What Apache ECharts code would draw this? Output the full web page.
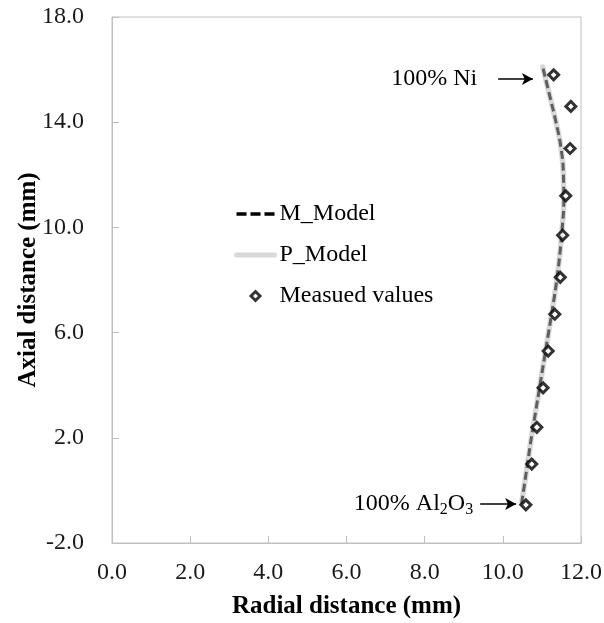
<!DOCTYPE html>
<html>
<head>
<meta charset="utf-8">
<script src="https://cdn.jsdelivr.net/npm/echarts@6/dist/echarts.min.js"></script>
<style>
  html, body { margin: 0; padding: 0; background: #fff; }
  #chart { width: 604px; height: 623px; }
</style>
</head>
<body>
<div id="chart"></div>
<script>
// Radial position of the interface vs. axial distance
const xTicks = [0, 2, 4, 6, 8, 10, 12];
const yTicks = [-2, 2, 6, 10, 14, 18];

// Model profile (axial distance, radial distance)
const modelAxial   = [-0.5, 0, 1, 2, 3, 4, 5, 6, 7, 8, 9, 10, 11, 12, 13, 14, 15, 16.1];
const mModelRadial = [10.48, 10.53, 10.63, 10.73, 10.84, 10.95, 11.06, 11.17, 11.28, 11.38, 11.46, 11.52, 11.56, 11.55, 11.49, 11.36, 11.2, 11.02];
const pModelRadial = [10.48, 10.53, 10.63, 10.73, 10.84, 10.95, 11.06, 11.17, 11.28, 11.38, 11.46, 11.52, 11.56, 11.55, 11.49, 11.36, 11.2, 11.02];

// Measured interface positions
const measAxial  = [-0.55, 1.0, 2.4, 3.9, 5.3, 6.7, 8.1, 9.7, 11.2, 13.0, 14.6, 15.8];
const measRadial = [10.59, 10.74, 10.87, 11.03, 11.16, 11.33, 11.47, 11.53, 11.61, 11.72, 11.74, 11.30];

// Annotation arrows: [label, y, xStart, xEnd, gap between text and arrow]
const notes = [
  ['{n|100% Ni}', 15.64, 9.88, 10.77, 21],
  ['{n|100% Al}{s|2}{n|O}{s|3}', -0.52, 9.42, 10.34, 7]
];

const FONT = '"Liberation Serif", "Times New Roman", serif';

// Small square diamond centred in the wide legend icon box
const LEGEND_DIAMOND = 'path://M0,0M38,10M14.5,5L19,0.5L23.5,5L19,9.5Z';

const pairs = (xs, ys) => xs.map((x, i) => [x, ys[i]]);

const chart = echarts.init(document.getElementById('chart'), null, { renderer: 'canvas' });

const tickLabel = {
  fontFamily: FONT, fontSize: 24, color: '#1a1a1a',
  formatter: v => v.toFixed(1)
};

chart.setOption({
  animation: false,
  backgroundColor: '#fff',
  textStyle: { fontFamily: FONT },
  grid: {
    left: 112, right: 23, top: 17, bottom: 80,
    outerBoundsMode: 'none',
    show: true, borderColor: '#bfbfbf', borderWidth: 1, backgroundColor: 'transparent'
  },
  xAxis: {
    type: 'value', min: xTicks[0], max: xTicks[xTicks.length - 1], interval: 2,
    name: 'Radial distance (mm)', nameLocation: 'middle', nameGap: 51, nameMoveOverlap: false,
    nameTextStyle: { fontFamily: FONT, fontSize: 25, fontWeight: 'bold', color: '#000' },
    axisLine: { onZero: false, lineStyle: { color: '#bfbfbf', width: 1 } },
    axisTick: { inside: true, length: 7, lineStyle: { color: '#bfbfbf' } },
    axisLabel: Object.assign({ margin: 18 }, tickLabel),
    splitLine: { show: false }
  },
  yAxis: {
    type: 'value', min: yTicks[0], max: yTicks[yTicks.length - 1], interval: 4,
    name: 'Axial distance (mm)', nameLocation: 'middle', nameGap: 71, nameRotate: 90, nameMoveOverlap: false,
    nameTextStyle: { fontFamily: FONT, fontSize: 25, fontWeight: 'bold', color: '#000' },
    axisLine: { onZero: false, lineStyle: { color: '#bfbfbf', width: 1 } },
    axisTick: { inside: true, length: 7, lineStyle: { color: '#bfbfbf' } },
    axisLabel: Object.assign({ margin: 28 }, tickLabel),
    splitLine: { show: false }
  },
  legend: {
    orient: 'vertical', left: 229, top: 197,
    itemWidth: 38, itemHeight: 10, itemGap: 17,
    textStyle: { fontFamily: FONT, fontSize: 24, color: '#000', lineHeight: 24 },
    data: [
      {
        name: 'M_Model',
        itemStyle: { color: 'transparent', borderColor: 'transparent', borderWidth: 0 },
        lineStyle: { color: '#000', width: 3.5, type: [10, 4] }
      },
      {
        name: 'P_Model',
        itemStyle: { color: 'transparent', borderColor: 'transparent', borderWidth: 0 },
        lineStyle: { color: '#d9d9d9', width: 5, cap: 'round' }
      },
      {
        name: 'Measued values', icon: LEGEND_DIAMOND,
        itemStyle: { color: '#fff', borderColor: '#000', borderWidth: 3 }
      }
    ]
  },
  series: [
    {
      name: 'P_Model', type: 'line', data: pairs(pModelRadial, modelAxial),
      symbol: 'none', smooth: 0.5, z: 2,
      lineStyle: { color: '#d9d9d9', width: 5.5, cap: 'round' },
      itemStyle: { color: '#d9d9d9' }
    },
    {
      name: 'M_Model', type: 'line', data: pairs(mModelRadial, modelAxial),
      symbol: 'none', smooth: 0.5, z: 3,
      lineStyle: { color: '#5f5f5f', width: 3, type: [8, 4] },
      itemStyle: { color: '#000' }
    },
    {
      name: 'Measued values', type: 'scatter', data: pairs(measRadial, measAxial),
      symbol: 'diamond', symbolSize: 10, z: 4,
      itemStyle: { color: '#fff', borderColor: '#000', borderWidth: 3 },
      markLine: {
        silent: true, animation: false,
        symbol: ['none', 'arrow'], symbolSize: [9, 11],
        lineStyle: { color: '#000', width: 1.5, type: 'solid' },
        label: {
          show: true, position: 'start',
          fontFamily: FONT, color: '#000',
          formatter: p => p.data.labelText,
          rich: {
            n: { fontFamily: FONT, fontSize: 24, color: '#000' },
            s: { fontFamily: FONT, fontSize: 16, color: '#000', padding: [11, 0, 0, 0] }
          }
        },
        data: notes.map(n => [
          { coord: [n[2], n[1]], labelText: n[0], label: { distance: n[4] } },
          { coord: [n[3], n[1]] }
        ])
      }
    }
  ]
});
</script>
</body>
</html>
